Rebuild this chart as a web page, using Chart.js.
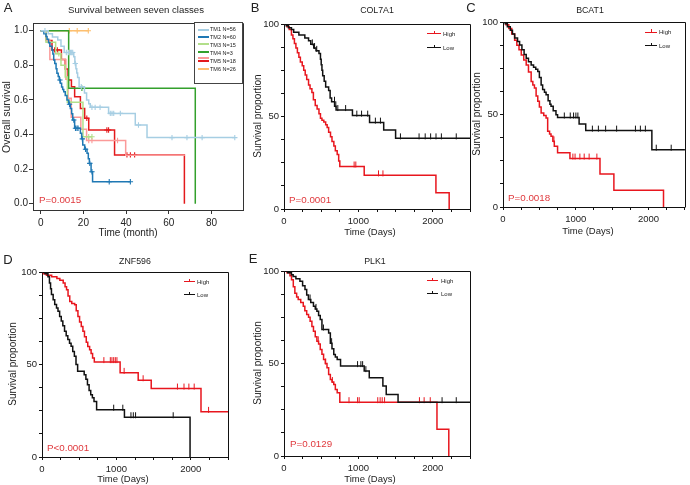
<!DOCTYPE html>
<html><head><meta charset="utf-8">
<script src="https://cdn.jsdelivr.net/npm/chart.js@4/dist/chart.umd.min.js"></script>
<style>
body{margin:0;background:#fff;width:690px;height:485px;overflow:hidden;position:relative;font-family:'Liberation Sans',Arial,Helvetica,sans-serif;font-weight:400;color:#222;}
canvas{position:absolute;left:0;top:0;}
.c{position:absolute;white-space:nowrap;text-align:center;width:200px;height:12px;line-height:12px;}
.l{position:absolute;white-space:nowrap;height:12px;line-height:12px;}
.lg{position:absolute;white-space:nowrap;height:8px;line-height:8px;font-size:5.5px;color:#222;}
.ln{position:absolute;height:0;}
.tk{position:absolute;width:0;height:3px;}
#alg{position:absolute;left:194px;top:22px;width:49px;height:62px;border:1px solid #444;background:#fff;box-sizing:border-box;}
</style></head><body>
<script>
// ================= DATA =================
// Panel A: time in months, survival fraction
const aXTicks = [0, 20, 40, 60, 80];
const aXTickLabels = ['0', '20', '40', '60', '80'];
const aYTicks = [0, 0.2, 0.4, 0.6, 0.8, 1.0];
const aYTickLabels = ['0.0', '0.2', '0.4', '0.6', '0.8', '1.0'];
const aLegendLabels = ['TM1 N=56', 'TM2 N=60', 'TM3 N=15', 'TM4 N=3', '', 'TM5 N=18', 'TM6 N=26'];

const tm1Time = [0, 3.5, 5.5, 8, 9.5, 11, 15.5, 16, 16.5, 16.9, 17.3, 18, 20.5, 21.5, 22.5, 23.2, 31.8, 44.3, 49.8, 90.9];
const tm1Surv = [1, 0.982, 0.964, 0.946, 0.91, 0.874, 0.85, 0.81, 0.78, 0.755, 0.73, 0.676, 0.64, 0.6, 0.578, 0.557, 0.522, 0.455, 0.382, 0.382];
const tm1Cens = [2, 12, 13, 14, 14.5, 15, 16.2, 19, 24, 25.5, 27.8, 32.6, 33.4, 34.2, 37.3, 45.8, 61.5, 68.5, 75.6, 90.9];

const tm2Time = [0, 1.5, 2.5, 3, 3.7, 4.3, 5.3, 5.7, 6.1, 6.6, 7.2, 7.6, 8.2, 8.7, 9.2, 9.8, 10.3, 10.8, 11.5, 12.3, 13.1, 13.9, 14.5, 15, 15.9, 18.6, 19.2, 19.7, 20.6, 21.7, 22.3, 22.8, 23.6, 24.3, 42];
const tm2Surv = [1, 0.983, 0.967, 0.95, 0.93, 0.91, 0.888, 0.865, 0.83, 0.81, 0.78, 0.754, 0.735, 0.715, 0.696, 0.675, 0.66, 0.647, 0.625, 0.6, 0.575, 0.551, 0.52, 0.484, 0.436, 0.407, 0.375, 0.339, 0.315, 0.291, 0.26, 0.233, 0.185, 0.127, 0.127];
const tm2Cens = [9, 13.5, 15.5, 16.3, 17, 17.5, 19.5, 21, 23, 24, 32.1, 42];

const tm3Time = [0, 2.5, 7, 9.5, 11.5, 12.5, 19.8, 24];
const tm3Surv = [1, 0.933, 0.867, 0.8, 0.733, 0.587, 0.387, 0.387];
const tm3Cens = [8.5, 13.5, 22.5, 24];

const tm4Time = [0, 13.1, 72.4];
const tm4Surv = [1, 0.667, 0];
const tm4Cens = [19.3];

const tmPinkTime = [0, 2.5, 4.3, 11.8, 12.8, 14.3, 18.8, 21.5, 39.8, 67.5];
const tmPinkSurv = [1, 0.944, 0.833, 0.72, 0.61, 0.5, 0.43, 0.365, 0.28, 0.28];
const tmPinkCens = [22.5, 24, 36];

const tm5Time = [0, 2.5, 5.3, 9.7, 11.5, 12.8, 14.4, 15.9, 18.6, 20.6, 22.5, 34.6, 67.3];
const tm5Surv = [1, 0.944, 0.889, 0.833, 0.778, 0.715, 0.676, 0.618, 0.551, 0.494, 0.426, 0.282, 0];
const tm5Cens = [6.5, 7.8, 21.6, 31, 31.8, 40.4, 42, 44];

const tm6Time = [0, 22.3];
const tm6Surv = [1, 1];
const tm6Cens = [13.4, 17.1, 22.3];

// Panels B-E: time in days, survival percent
const dXTicks = [0, 250, 500, 750, 1000, 1250, 1500, 1750, 2000, 2250, 2500];
const dXTickLabels = ['0', '', '', '', '1000', '', '', '', '2000', '', ''];
const dYTicks = [0, 12.5, 25, 37.5, 50, 62.5, 75, 87.5, 100];
const dYTickLabels = ['0', '', '', '', '50', '', '', '', '100'];
const groupLabels = ['High', 'Low'];

const col7a1LowTime = [0, 30, 60, 100, 130, 200, 280, 330, 360, 400, 430, 470, 490, 500, 510, 520, 540, 560, 600, 620, 640, 680, 700, 920, 1150, 1340, 1500, 2500];
const col7a1LowSurv = [100, 99, 98, 97, 95.5, 94, 92.5, 91, 89, 87, 85.5, 84, 81, 78, 75, 72, 69, 66, 64, 60, 58, 55.5, 53.5, 50.5, 46.7, 42.7, 38.2, 38.2];
const col7a1LowCens = [380, 410, 440, 678, 696, 723, 828, 978, 1042, 1124, 1228, 1296, 1565, 1815, 1897, 1970, 2043, 2115, 2315];
const col7a1HighTime = [0, 40, 70, 100, 120, 140, 160, 180, 200, 220, 245, 265, 285, 305, 330, 350, 375, 395, 420, 445, 470, 490, 510, 535, 560, 580, 600, 625, 645, 670, 690, 715, 735, 750, 1078, 2042, 2220];
const col7a1HighSurv = [100, 98.5, 97, 94, 92, 89.5, 87, 84.5, 82, 79.5, 77.5, 75, 72.5, 70, 67, 65, 63, 59, 56, 54, 51.5, 49, 48, 47, 45.5, 44, 41.5, 39, 36.5, 34, 31.5, 29.5, 26, 23, 18.2, 8.8, 0];
const col7a1HighCens = [942, 965, 1270, 1329];

const bcat1LowTime = [0, 30, 60, 100, 130, 160, 200, 228, 260, 290, 319, 350, 387, 420, 450, 478, 500, 524, 545, 570, 592, 620, 645, 660, 690, 728, 750, 1046, 1137, 2046, 2500];
const bcat1LowSurv = [100, 99, 97.5, 95.5, 93.5, 91.3, 89.5, 87.6, 85, 82.5, 80.4, 78.5, 76.8, 75.5, 74.5, 73.3, 70, 66, 63.5, 62, 60.7, 57.5, 55.5, 54.4, 52, 49.9, 48.4, 44.9, 41.3, 31, 31];
const bcat1LowCens = [842, 924, 969, 1001, 1029, 1228, 1310, 1410, 1561, 1820, 1888, 1956, 2106, 2311];
const bcat1HighTime = [0, 40, 80, 120, 160, 190, 220, 251, 285, 319, 350, 387, 410, 432, 455, 478, 500, 524, 560, 592, 614, 640, 660, 685, 705, 750, 920, 1333, 1524, 2206];
const bcat1HighSurv = [100, 98.5, 96.5, 93.5, 90.2, 87.5, 85, 82.2, 79.5, 76.8, 73, 67.9, 66, 64.3, 60, 57.1, 54, 50.8, 49.5, 48.1, 40.9, 39.5, 38.3, 35.5, 32.9, 29.3, 26.2, 17.9, 9, 0];
const bcat1HighCens = [700, 960, 990, 1056, 1115, 1183, 1290];

const znf596LowTime = [0, 40, 80, 100, 115, 127, 150, 171, 195, 215, 237, 259, 280, 303, 325, 347, 370, 391, 413, 435, 457, 479, 567, 590, 611, 633, 655, 677, 699, 734, 1108, 1990];
const znf596LowSurv = [100, 99, 97.5, 94, 91, 87.8, 85, 82.4, 80.5, 78.8, 76, 73.5, 71, 68, 65.5, 63.5, 61.5, 59.9, 57, 54.5, 50, 46.4, 44.5, 42, 39, 36, 33.7, 32, 30, 25.6, 21.5, 0];
const znf596LowCens = [963, 1086, 1195, 1227, 1257, 1763];
const znf596HighTime = [0, 20, 60, 130, 200, 240, 285, 310, 330, 350, 373, 400, 439, 460, 483, 505, 528, 550, 571, 595, 615, 640, 660, 680, 703, 1050, 1293, 1468, 2137, 2500];
const znf596HighSurv = [100, 99, 98.2, 97.5, 96.5, 95.5, 94, 92, 90.4, 87, 84, 83, 82.3, 79, 76, 73, 70.5, 68, 65, 62, 59.7, 58, 56, 53.5, 51.3, 45.5, 41.5, 37, 24.4, 24.4];
const znf596HighCens = [831, 918, 940, 963, 985, 1007, 1103, 1359, 1820, 1908, 1974, 2045, 2238];

const plk1LowTime = [0, 50, 100, 123, 160, 214, 250, 282, 305, 328, 360, 396, 420, 442, 465, 487, 510, 600, 623, 645, 669, 690, 715, 760, 1078, 1146, 1329, 1374, 1533, 2500];
const plk1LowSurv = [100, 99, 98, 97, 95.8, 94.4, 92, 90, 87, 84.6, 83, 81, 79.5, 78.2, 76, 73.8, 68.4, 66.5, 61, 58, 54.9, 53.5, 52.2, 48.6, 45.9, 42.3, 37.8, 33.3, 29.1, 29.1];
const plk1LowCens = [350, 430, 530, 640, 988, 1033, 1056, 1100, 2124, 2315];
const plk1HighTime = [0, 40, 80, 101, 125, 146, 170, 191, 225, 259, 280, 305, 330, 351, 375, 396, 420, 442, 465, 487, 510, 532, 555, 578, 600, 623, 645, 669, 690, 715, 750, 2056, 2215];
const plk1HighSurv = [100, 99, 97.5, 95.3, 91.5, 88, 86, 84.6, 83, 81, 78.5, 76.5, 75, 72.9, 70, 67.5, 64.5, 62, 60.5, 57.6, 55, 52.2, 50, 47.7, 44, 41.4, 40, 38.7, 36, 34.2, 29.1, 14.4, 0];
const plk1HighCens = [460, 560, 650, 873, 988, 1010, 1260, 1292, 1319, 1351, 1820, 1883, 1965];

// ================= DRAWING =================
const FONT = "'Liberation Sans', Arial, Helvetica, sans-serif";
const RED = '#e8161e', BLACK = '#111111', PRED = '#e03a3e';
const aColors = ['#a6cee3', '#1f78b4', '#b2df8a', '#33a02c', '#fb9a99', '#e31a1c', '#fdbf6f'];

function survAt(ts, ss, t) {
  let v = ss[0];
  for (let i = 0; i < ts.length; i++) { if (ts[i] <= t) v = ss[i]; }
  return v;
}
function kmLine(ts, ss, color, w) {
  return { data: ts.map((t, i) => ({ x: t, y: ss[i] })), stepped: true, borderColor: color,
    borderWidth: w, pointRadius: 0, fill: false, tension: 0 };
}
function kmCens(ts, ss, cs, color, style, r) {
  return { data: cs.map(c => ({ x: c, y: survAt(ts, ss, c) })), showLine: false, pointStyle: style,
    pointRadius: r, borderColor: color, backgroundColor: color, borderWidth: 1.1 };
}
function tickImg(color) {
  const c = document.createElement('canvas'); c.width = 3; c.height = 12;
  const g = c.getContext('2d'); g.fillStyle = color; g.fillRect(1, 1, 1, 6);
  return c;
}

const boxPlugin = {
  id: 'box',
  afterDatasetsDraw(chart) {
    const a = chart.chartArea, ctx = chart.ctx;
    ctx.save(); ctx.strokeStyle = chart.options.boxColor || '#111'; ctx.lineWidth = 1;
    ctx.beginPath();
    ctx.moveTo(Math.round(a.left) + 0.5, Math.round(a.top) + 0.5);
    ctx.lineTo(Math.round(a.right) + 0.5, Math.round(a.top) + 0.5);
    ctx.lineTo(Math.round(a.right) + 0.5, Math.round(a.bottom) + 0.5);
    ctx.stroke(); ctx.restore();
  }
};

function makeChart(cfg) {
  const cv = document.createElement('canvas'); cv.width = 690; cv.height = 485;
  document.body.appendChild(cv);
  const W = 30, H = 25;
  const axisCommon = (ticks, labels, pad, fs) => ({
    type: 'linear',
    afterBuildTicks(s) { s.ticks = ticks.map(v => ({ value: v })); },
    ticks: { autoSkip: false, maxRotation: 0, minRotation: 0, padding: pad, color: '#222',
      font: { family: FONT, size: fs }, callback: (v, i) => labels[i] },
    grid: { drawOnChartArea: false, drawTicks: true, tickLength: cfg.tickLen, color: cfg.axisColor, lineWidth: 1 },
    border: { display: true, color: cfg.axisColor, width: 1 }
  });
  const xs = axisCommon(cfg.xTicks, cfg.xLabels, cfg.xPad, cfg.fs);
  xs.min = cfg.xMin; xs.max = cfg.xMax; xs.afterFit = s => { s.height = H; };
  const ys = axisCommon(cfg.yTicks, cfg.yLabels, cfg.yPad, cfg.fs);
  ys.min = cfg.yMin; ys.max = cfg.yMax; ys.afterFit = s => { s.width = W; };
  return new Chart(cv, {
    type: 'line',
    data: { datasets: cfg.datasets },
    options: {
      responsive: false, animation: false, events: [], devicePixelRatio: 1,
      boxColor: cfg.axisColor,
      layout: { padding: { left: cfg.box.L - W, top: cfg.box.T, right: 690 - cfg.box.R, bottom: 485 - cfg.box.B - H } },
      plugins: { legend: { display: false }, tooltip: { enabled: false }, title: { display: false } },
      scales: { x: xs, y: ys }
    },
    plugins: [boxPlugin]
  });
}

// Panel A
const aSeries = [
  [tm1Time, tm1Surv, tm1Cens], [tm2Time, tm2Surv, tm2Cens], [tm3Time, tm3Surv, tm3Cens],
  [tm4Time, tm4Surv, tm4Cens], [tmPinkTime, tmPinkSurv, tmPinkCens], [tm5Time, tm5Surv, tm5Cens],
  [tm6Time, tm6Surv, tm6Cens]
];
const aDatasets = [];
aSeries.forEach((s, i) => {
  aDatasets.push(kmLine(s[0], s[1], aColors[i], 1.5));
  aDatasets.push(kmCens(s[0], s[1], s[2], aColors[i], 'cross', 2.7));
});
makeChart({ box: { L: 33, T: 23, R: 243, B: 210 }, xMin: -3.6, xMax: 94.75, yMin: -0.0364, yMax: 1.0445,
  xTicks: aXTicks, xLabels: aXTickLabels, yTicks: aYTicks, yLabels: aYTickLabels,
  xPad: 3, yPad: 1, fs: 10, tickLen: 4, axisColor: '#333', datasets: aDatasets });

// Panels B-E
const redTick = tickImg(RED), blackTick = tickImg(BLACK);
function hlDatasets(lt, ls, lc, ht, hs, hc) {
  return [
    kmLine(lt, ls, BLACK, 1.5), kmCens(lt, ls, lc, BLACK, blackTick, 3),
    kmLine(ht, hs, RED, 1.5), kmCens(ht, hs, hc, RED, redTick, 3)
  ];
}
const dPanels = [
  { box: { L: 284, T: 24, R: 470, B: 209 }, ds: hlDatasets(col7a1LowTime, col7a1LowSurv, col7a1LowCens, col7a1HighTime, col7a1HighSurv, col7a1HighCens) },
  { box: { L: 503, T: 22, R: 689, B: 207 }, ds: hlDatasets(bcat1LowTime, bcat1LowSurv, bcat1LowCens, bcat1HighTime, bcat1HighSurv, bcat1HighCens) },
  { box: { L: 42, T: 272, R: 228, B: 457 }, ds: hlDatasets(znf596LowTime, znf596LowSurv, znf596LowCens, znf596HighTime, znf596HighSurv, znf596HighCens) },
  { box: { L: 284, T: 271, R: 470, B: 456 }, ds: hlDatasets(plk1LowTime, plk1LowSurv, plk1LowCens, plk1HighTime, plk1HighSurv, plk1HighCens) }
];
dPanels.forEach(p => makeChart({ box: p.box, xMin: 0, xMax: 2500, yMin: 0, yMax: 100,
  xTicks: dXTicks, xLabels: dXTickLabels, yTicks: dYTicks, yLabels: dYTickLabels,
  xPad: 4, yPad: 2, fs: 9.5, tickLen: 3, axisColor: '#111', datasets: p.ds }));

// ===== Text (real DOM text) =====
function addDiv(cls, style, text) {
  const d = document.createElement('div'); d.className = cls; d.setAttribute('style', style);
  if (text) d.textContent = text; document.body.appendChild(d); return d;
}
function centerText(txt, cx, cy, size, extra) {
  return addDiv('c', `left:${Math.round(cx) - 100}px;top:${Math.round(cy) - 6}px;font-size:${size}px;${extra || ''}`, txt);
}
function vertText(txt, cx, cy, size) {
  return centerText(txt, cx, cy, size, 'transform:rotate(-90deg);');
}
function leftText(txt, x, cy, size, extra) {
  return addDiv('l', `left:${Math.round(x)}px;top:${Math.round(cy) - 6}px;font-size:${size}px;${extra || ''}`, txt);
}
const panelTexts = [
  { letter: 'A', lx: 8, ly: 8, title: 'Survival between seven classes', tx: 136, ty: 10, tfs: 9.6,
    ylab: 'Overall survival', yx: 6, yy: 117, xlab: 'Time (month)', xx: 128, xy: 233, p: 'P=0.0015', px: 39, py: 200, afs: 10.5 },
  { letter: 'B', lx: 255, ly: 8, title: 'COL7A1', tx: 377, ty: 10, tfs: 8.8,
    ylab: 'Survival proportion', yx: 258, yy: 116, xlab: 'Time (Days)', xx: 370, xy: 232, p: 'P=0.0001', px: 289, py: 200, afs: 10 },
  { letter: 'C', lx: 471, ly: 8, title: 'BCAT1', tx: 590, ty: 10, tfs: 8.8,
    ylab: 'Survival proportion', yx: 477, yy: 114, xlab: 'Time (Days)', xx: 588, xy: 231, p: 'P=0.0018', px: 508, py: 198, afs: 10 },
  { letter: 'D', lx: 8, ly: 260, title: 'ZNF596', tx: 135, ty: 261, tfs: 8.8,
    ylab: 'Survival proportion', yx: 13, yy: 364, xlab: 'Time (Days)', xx: 123, xy: 479, p: 'P<0.0001', px: 47, py: 448, afs: 10 },
  { letter: 'E', lx: 253, ly: 259, title: 'PLK1', tx: 375, ty: 261, tfs: 8.8,
    ylab: 'Survival proportion', yx: 258, yy: 363, xlab: 'Time (Days)', xx: 370, xy: 479, p: 'P=0.0129', px: 290, py: 444, afs: 10 }
];
panelTexts.forEach(t => {
  centerText(t.letter, t.lx, t.ly, 13);
  centerText(t.title, t.tx, t.ty, t.tfs);
  vertText(t.ylab, t.yx, t.yy, t.afs);
  centerText(t.xlab, t.xx, t.xy, t.afs - 0.5);
  leftText(t.p, t.px, t.py, 9.8, `color:${PRED};`);
});

// Panel A legend
const alg = addDiv('', '', ''); alg.id = 'alg';
const aLineY = [29.5, 36.8, 44.3, 52, 57.8, 61.2, 69];
const aTextY = [29.3, 36.8, 44.6, 52.5, 0, 60.8, 68.8];
aColors.forEach((c, i) => {
  addDiv('ln', `left:197.5px;top:${aLineY[i] - 1}px;width:11px;border-top:2px solid ${c};`, '');
  if (aLegendLabels[i]) addDiv('lg', `left:210px;top:${Math.round(aTextY[i]) - 4}px;`, aLegendLabels[i]);
});
// Panels B-E legends
const dLegends = [
  { x1: 427, x2: 441, tx: 442.5, yH: 34, yL: 47.7 },
  { x1: 645, x2: 657, tx: 659, yH: 32.3, yL: 45.7 },
  { x1: 183.5, x2: 195, tx: 197, yH: 281.7, yL: 295 },
  { x1: 427, x2: 437.5, tx: 441, yH: 280.7, yL: 294 }
];
dLegends.forEach(g => {
  [[g.yH, RED, groupLabels[0]], [g.yL, BLACK, groupLabels[1]]].forEach(([y, c, lab]) => {
    addDiv('ln', `left:${g.x1}px;top:${y - 0.6}px;width:${g.x2 - g.x1}px;border-top:1.2px solid ${c};`, '');
    addDiv('tk', `left:${(g.x1 + g.x2) / 2}px;top:${y - 3}px;border-left:1px solid ${c};`, '');
    addDiv('lg', `left:${Math.round(g.tx)}px;top:${Math.round(y) - 4}px;font-size:6px;`, lab);
  });
});
</script>
</body></html>
